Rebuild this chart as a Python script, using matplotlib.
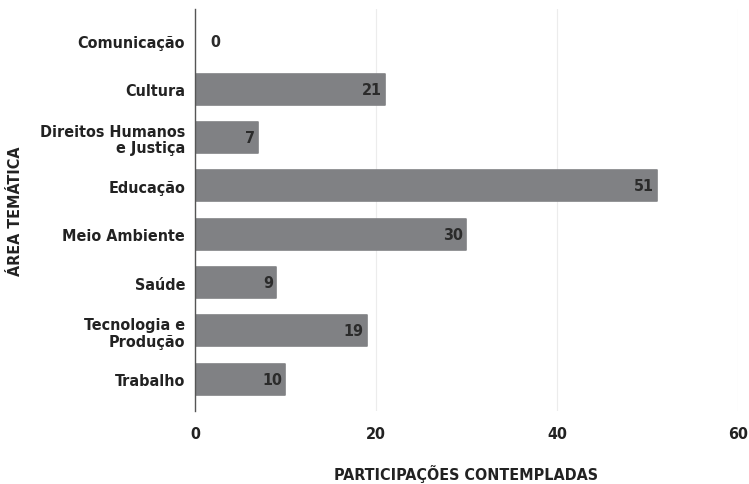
import matplotlib
matplotlib.use("Agg")
import matplotlib.pyplot as plt
from matplotlib.transforms import offset_copy

plt.rcParams['font.family'] = ['DejaVu Sans']
plt.rcParams['font.stretch'] = 'condensed'
plt.rcParams['font.weight'] = 'bold'
plt.rcParams['axes.labelweight'] = 'bold'

# participações por área temática
areas = ['Comunicação', 'Cultura', 'Direitos Humanos\ne Justiça', 'Educação',
         'Meio Ambiente', 'Saúde', 'Tecnologia e\nProdução', 'Trabalho']
participacoes = [0, 21, 7, 51, 30, 9, 19, 10]
x_ticks = [0, 20, 40, 60]

fig = plt.figure(figsize=(7.49, 4.85), dpi=100)
ax = fig.add_axes([0.2603, 0.1505, 0.725, 0.8285])

pos = list(range(len(areas)))
bars = ax.barh(pos, participacoes, height=0.64, color='#808184',
               edgecolor='#808184', linewidth=1.2, joinstyle='round', zorder=2)

ax.set_ylim(len(areas) - 1 + 0.66, -0.66)
ax.set_xlim(0, 60)
ax.set_xticks(x_ticks)
ax.set_yticks(pos)
ax.set_yticklabels(areas, linespacing=1.1)

ax.grid(axis='x', color='#ececec', linewidth=0.8, zorder=0)
for s in ['top', 'right', 'bottom']:
    ax.spines[s].set_visible(False)
ax.spines['left'].set_color('#555555')
ax.spines['left'].set_linewidth(1.0)
ax.spines['left'].set_zorder(3)
ax.tick_params(length=0, labelsize=11.5, labelcolor='#222222')
ax.tick_params(axis='y', pad=7)
ax.tick_params(axis='x', pad=11)

# valores na ponta de cada barra
inside = offset_copy(ax.transData, fig=fig, x=-3, y=0, units='dots')
outside = offset_copy(ax.transData, fig=fig, x=15, y=0, units='dots')
for p, v in zip(pos, participacoes):
    if v > 0:
        ax.text(v, p, str(v), transform=inside, ha='right', va='center',
                fontsize=11.5, color='#2b2b2b', zorder=4)
    else:
        ax.text(v, p, str(v), transform=outside, ha='left', va='center',
                fontsize=11.5, color='#2b2b2b', zorder=4)

ax.set_xlabel('PARTICIPAÇÕES CONTEMPLADAS', fontsize=11.5, color='#222222', labelpad=16)
ax.set_ylabel('ÁREA TEMÁTICA', fontsize=11.5, color='#222222', labelpad=12)

fig.savefig('out.png', dpi=100)
